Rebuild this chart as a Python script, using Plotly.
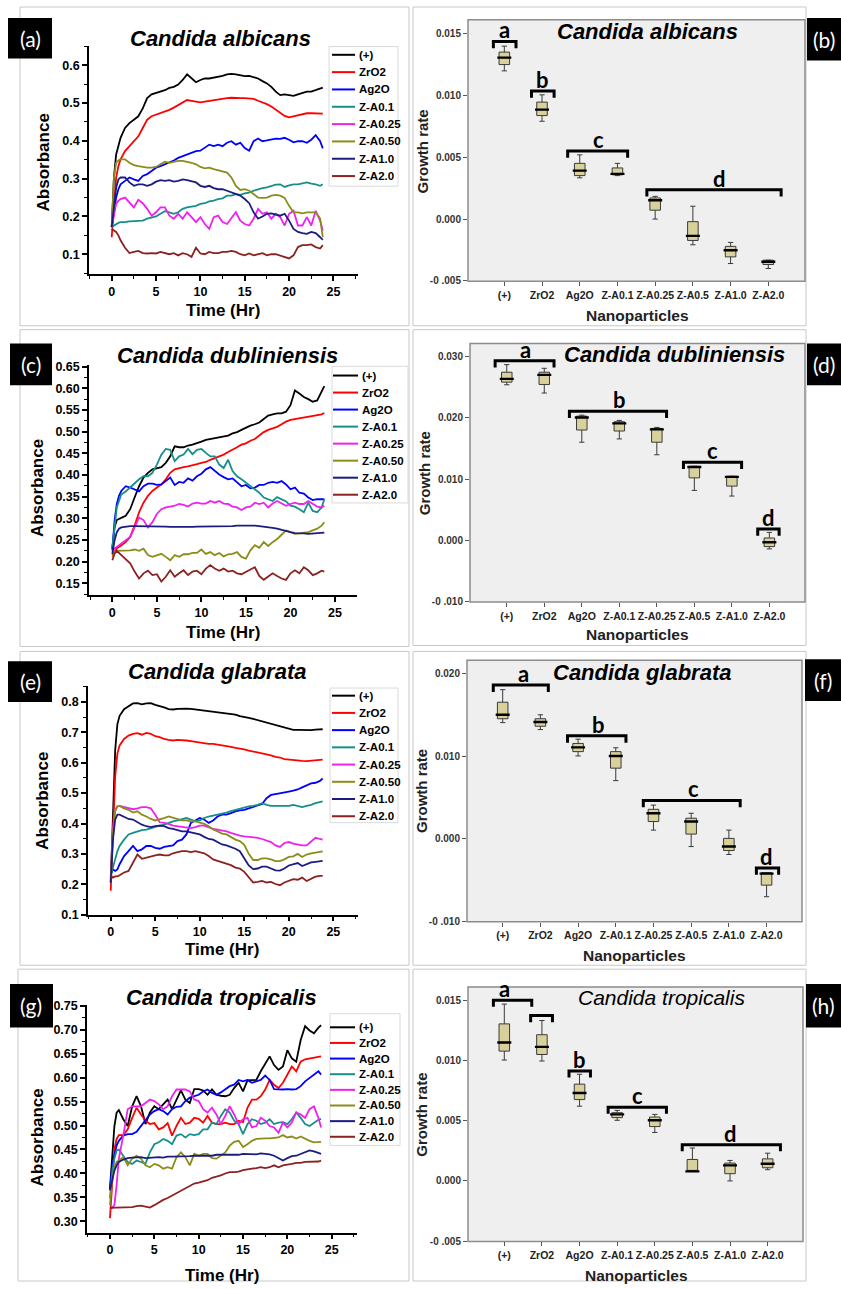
import plotly.graph_objects as go

W, H = 841, 1289
FONT = "Liberation Sans"
TAGFONT = "Lato"

# ---------------------------------------------------------------- time grid (h)
T = [0, 0.25, 0.5, 0.75,
     1.0, 1.5, 2.0, 2.5, 3.0, 3.5, 4.0, 4.5, 5.0, 5.5,
     6.0, 6.5, 7.0, 7.5, 8.0, 8.5, 9.0, 9.5, 10.0, 10.5,
     11.0, 11.5, 12.0, 12.5, 13.0, 13.5, 14.0, 14.5, 15.0, 15.5,
     16.0, 16.5, 17.0, 17.5, 18.0, 18.5, 19.0, 19.5, 20.0, 20.5,
     21.0, 21.5, 22.0, 22.5, 23.0, 23.5,
     23.8]

SERIES = ["(+)", "ZrO2", "Ag2O", "Z-A0.1", "Z-A0.25", "Z-A0.50", "Z-A1.0", "Z-A2.0"]
COLORS = ["#000000", "#ff0000", "#0000ff", "#168f8a", "#ee22ee", "#8c8c1a", "#1c1c80", "#8b2222"]

# ---------------------------------------------------------------- Candida albicans absorbance
A_POS = [0.172, 0.303, 0.364, 0.390,
         0.408, 0.434, 0.447, 0.456, 0.465, 0.486, 0.513, 0.523, 0.526, 0.530,
         0.534, 0.540, 0.543, 0.549, 0.561, 0.576, 0.565, 0.555, 0.561, 0.565,
         0.565, 0.567, 0.569, 0.572, 0.576, 0.577, 0.576, 0.574, 0.571, 0.572,
         0.569, 0.565, 0.558, 0.552, 0.543, 0.530, 0.521, 0.523, 0.521, 0.519,
         0.523, 0.526, 0.530, 0.530, 0.534, 0.539,
         0.541]
A_ZRO2 = [0.145, 0.240, 0.303, 0.333,
          0.351, 0.373, 0.386, 0.399, 0.412, 0.434, 0.456, 0.465, 0.469, 0.473,
          0.478, 0.482, 0.488, 0.495, 0.502, 0.508, 0.506, 0.504, 0.502, 0.504,
          0.506, 0.508, 0.510, 0.513, 0.513, 0.514, 0.513, 0.513, 0.513, 0.513,
          0.511, 0.506, 0.502, 0.497, 0.491, 0.482, 0.473, 0.466, 0.462, 0.465,
          0.467, 0.471, 0.473, 0.473, 0.473, 0.473,
          0.472]
A_AG2O = [0.172, 0.215, 0.250, 0.272,
          0.285, 0.294, 0.303, 0.298, 0.294, 0.307, 0.312, 0.320, 0.329, 0.333,
          0.338, 0.342, 0.348, 0.355, 0.360, 0.364, 0.368, 0.373, 0.374, 0.381,
          0.390, 0.386, 0.390, 0.386, 0.395, 0.399, 0.390, 0.395, 0.381, 0.374,
          0.399, 0.406, 0.399, 0.401, 0.403, 0.406, 0.405, 0.408, 0.403, 0.396,
          0.399, 0.399, 0.395, 0.403, 0.415, 0.399,
          0.380]
A_ZA01 = [0.172, 0.176, 0.180, 0.183,
          0.185, 0.185, 0.187, 0.187, 0.189, 0.189, 0.194, 0.196, 0.200, 0.207,
          0.214, 0.211, 0.207, 0.211, 0.220, 0.224, 0.226, 0.228, 0.233, 0.235,
          0.240, 0.242, 0.246, 0.248, 0.255, 0.255, 0.259, 0.257, 0.261, 0.263,
          0.268, 0.272, 0.275, 0.277, 0.281, 0.284, 0.285, 0.278, 0.282, 0.285,
          0.285, 0.287, 0.290, 0.287, 0.285, 0.281,
          0.285]
A_ZA025 = [0.172, 0.207, 0.233, 0.241,
           0.246, 0.250, 0.237, 0.224, 0.244, 0.235, 0.220, 0.202, 0.211, 0.224,
           0.224, 0.202, 0.194, 0.207, 0.194, 0.211, 0.198, 0.185, 0.198, 0.180,
           0.167, 0.198, 0.202, 0.185, 0.180, 0.194, 0.211, 0.189, 0.180, 0.176,
           0.194, 0.220, 0.207, 0.211, 0.194, 0.207, 0.198, 0.176, 0.207, 0.215,
           0.176, 0.176, 0.198, 0.176, 0.215, 0.189,
           0.163]
A_ZA050 = [0.172, 0.303, 0.342, 0.348,
           0.351, 0.351, 0.342, 0.336, 0.333, 0.331, 0.329, 0.329, 0.331, 0.338,
           0.345, 0.342, 0.345, 0.347, 0.347, 0.345, 0.342, 0.338, 0.331, 0.327,
           0.329, 0.325, 0.322, 0.320, 0.316, 0.303, 0.281, 0.270, 0.272, 0.268,
           0.259, 0.250, 0.249, 0.250, 0.255, 0.257, 0.255, 0.249, 0.228, 0.211,
           0.211, 0.208, 0.211, 0.211, 0.211, 0.194,
           0.145]
A_ZA10 = [0.172, 0.233, 0.276, 0.298,
          0.303, 0.303, 0.290, 0.281, 0.285, 0.285, 0.281, 0.285, 0.292, 0.296,
          0.294, 0.296, 0.292, 0.294, 0.298, 0.296, 0.292, 0.290, 0.281, 0.278,
          0.281, 0.275, 0.272, 0.272, 0.268, 0.263, 0.259, 0.255, 0.246, 0.235,
          0.211, 0.194, 0.200, 0.207, 0.208, 0.205, 0.202, 0.207, 0.189, 0.167,
          0.159, 0.156, 0.154, 0.159, 0.156, 0.145,
          0.138]
A_ZA20 = [0.167, 0.163, 0.159, 0.150,
          0.137, 0.117, 0.103, 0.106, 0.109, 0.103, 0.102, 0.103, 0.102, 0.106,
          0.102, 0.100, 0.103, 0.097, 0.103, 0.100, 0.093, 0.117, 0.102, 0.100,
          0.106, 0.103, 0.103, 0.106, 0.106, 0.109, 0.106, 0.100, 0.097, 0.102,
          0.097, 0.100, 0.103, 0.097, 0.100, 0.100, 0.097, 0.093, 0.089, 0.097,
          0.119, 0.124, 0.124, 0.126, 0.119, 0.115,
          0.124]

# ---------------------------------------------------------------- Candida dubliniensis absorbance
C_POS = [0.230, 0.279, 0.296, 0.298,
         0.301, 0.306, 0.321, 0.348, 0.374, 0.394, 0.405, 0.413, 0.415, 0.418,
         0.428, 0.443, 0.466, 0.464, 0.464, 0.468, 0.470, 0.473, 0.477, 0.481,
         0.483, 0.485, 0.486, 0.488, 0.491, 0.496, 0.499, 0.504, 0.509, 0.514,
         0.517, 0.521, 0.529, 0.537, 0.540, 0.542, 0.542, 0.546, 0.561, 0.595,
         0.588, 0.580, 0.575, 0.569, 0.572, 0.591,
         0.605]
C_ZRO2 = [0.215, 0.222, 0.230, 0.234,
          0.238, 0.245, 0.257, 0.283, 0.314, 0.336, 0.352, 0.363, 0.371, 0.378,
          0.390, 0.405, 0.413, 0.416, 0.418, 0.420, 0.422, 0.425, 0.428, 0.430,
          0.435, 0.439, 0.443, 0.447, 0.453, 0.458, 0.464, 0.470, 0.473, 0.479,
          0.483, 0.491, 0.499, 0.504, 0.508, 0.511, 0.517, 0.523, 0.527, 0.529,
          0.531, 0.533, 0.535, 0.537, 0.539, 0.540,
          0.543]
C_AG2O = [0.226, 0.295, 0.333, 0.352,
          0.363, 0.374, 0.371, 0.367, 0.362, 0.374, 0.380, 0.380, 0.377, 0.378,
          0.386, 0.394, 0.377, 0.384, 0.382, 0.392, 0.387, 0.397, 0.403, 0.413,
          0.418, 0.409, 0.401, 0.395, 0.390, 0.392, 0.382, 0.374, 0.377, 0.369,
          0.371, 0.377, 0.377, 0.382, 0.384, 0.382, 0.386, 0.378, 0.367, 0.371,
          0.359, 0.357, 0.348, 0.342, 0.344, 0.344,
          0.344]
C_ZA01 = [0.234, 0.287, 0.325, 0.340,
          0.355, 0.362, 0.371, 0.382, 0.390, 0.397, 0.397, 0.405, 0.424, 0.447,
          0.460, 0.458, 0.432, 0.443, 0.447, 0.460, 0.448, 0.458, 0.460, 0.451,
          0.443, 0.443, 0.424, 0.416, 0.435, 0.409, 0.397, 0.390, 0.382, 0.374,
          0.367, 0.359, 0.348, 0.344, 0.340, 0.349, 0.344, 0.339, 0.329, 0.327,
          0.321, 0.314, 0.336, 0.317, 0.314, 0.325,
          0.344]
C_ZA025 = [0.222, 0.230, 0.234, 0.238,
           0.241, 0.249, 0.257, 0.279, 0.302, 0.296, 0.279, 0.291, 0.310, 0.321,
           0.325, 0.327, 0.329, 0.333, 0.331, 0.327, 0.334, 0.336, 0.334, 0.334,
           0.340, 0.336, 0.340, 0.334, 0.333, 0.327, 0.325, 0.319, 0.325, 0.327,
           0.336, 0.333, 0.336, 0.325, 0.334, 0.340, 0.334, 0.329, 0.333, 0.336,
           0.333, 0.333, 0.340, 0.334, 0.327, 0.325,
           0.329]
C_ZA050 = [0.211, 0.222, 0.225, 0.225,
           0.225, 0.226, 0.226, 0.228, 0.225, 0.230, 0.215, 0.211, 0.215, 0.218,
           0.211, 0.203, 0.215, 0.211, 0.217, 0.217, 0.220, 0.220, 0.228, 0.218,
           0.222, 0.215, 0.220, 0.212, 0.217, 0.218, 0.222, 0.211, 0.207, 0.226,
           0.238, 0.232, 0.245, 0.236, 0.245, 0.252, 0.262, 0.272, 0.268, 0.264,
           0.265, 0.266, 0.268, 0.272, 0.276, 0.283,
           0.291]
C_ZA10 = [0.218, 0.249, 0.268, 0.276,
          0.279, 0.281, 0.282, 0.282, 0.282, 0.282, 0.282, 0.281, 0.281, 0.281,
          0.281, 0.280, 0.280, 0.279, 0.279, 0.280, 0.280, 0.281, 0.281, 0.281,
          0.282, 0.282, 0.281, 0.281, 0.282, 0.282, 0.283, 0.283, 0.283, 0.284,
          0.283, 0.282, 0.281, 0.280, 0.278, 0.276, 0.273, 0.270, 0.268, 0.266,
          0.266, 0.265, 0.264, 0.265, 0.266, 0.266,
          0.267]
C_ZA20 = [0.203, 0.218, 0.225, 0.220,
          0.215, 0.207, 0.196, 0.177, 0.161, 0.173, 0.179, 0.169, 0.171, 0.154,
          0.165, 0.180, 0.165, 0.173, 0.180, 0.169, 0.177, 0.179, 0.171, 0.184,
          0.192, 0.184, 0.179, 0.184, 0.177, 0.179, 0.173, 0.171, 0.177, 0.182,
          0.187, 0.167, 0.158, 0.165, 0.173, 0.167, 0.161, 0.158, 0.173, 0.180,
          0.173, 0.187, 0.180, 0.169, 0.173, 0.179,
          0.177]

# ---------------------------------------------------------------- Candida glabrata absorbance
E_POS = [0.206, 0.423, 0.640, 0.727,
         0.754, 0.776, 0.787, 0.795, 0.796, 0.792, 0.795, 0.796, 0.790, 0.787,
         0.782, 0.776, 0.775, 0.777, 0.778, 0.778, 0.777, 0.775, 0.773, 0.771,
         0.769, 0.768, 0.766, 0.765, 0.762, 0.760, 0.758, 0.753, 0.749, 0.747,
         0.744, 0.740, 0.736, 0.732, 0.727, 0.723, 0.719, 0.714, 0.710, 0.708,
         0.708, 0.708, 0.706, 0.707, 0.709, 0.710,
         0.710]
E_ZRO2 = [0.179, 0.402, 0.554, 0.630,
          0.657, 0.678, 0.689, 0.695, 0.697, 0.692, 0.698, 0.695, 0.687, 0.684,
          0.678, 0.675, 0.673, 0.675, 0.675, 0.673, 0.671, 0.669, 0.665, 0.664,
          0.662, 0.662, 0.660, 0.658, 0.656, 0.652, 0.649, 0.647, 0.644, 0.640,
          0.637, 0.634, 0.630, 0.627, 0.624, 0.619, 0.617, 0.612, 0.610, 0.608,
          0.606, 0.606, 0.605, 0.607, 0.608, 0.610,
          0.610]
E_AG2O = [0.233, 0.249, 0.244, 0.249,
          0.266, 0.293, 0.309, 0.326, 0.309, 0.315, 0.326, 0.326, 0.320, 0.317,
          0.323, 0.326, 0.328, 0.342, 0.347, 0.364, 0.402, 0.410, 0.418, 0.413,
          0.402, 0.410, 0.423, 0.429, 0.429, 0.434, 0.440, 0.443, 0.445, 0.450,
          0.454, 0.458, 0.464, 0.483, 0.494, 0.497, 0.499, 0.501, 0.505, 0.508,
          0.512, 0.519, 0.526, 0.532, 0.534, 0.540,
          0.548]
E_ZA01 = [0.228, 0.260, 0.282, 0.309,
          0.326, 0.347, 0.364, 0.369, 0.374, 0.378, 0.380, 0.385, 0.388, 0.393,
          0.396, 0.402, 0.407, 0.410, 0.415, 0.418, 0.413, 0.407, 0.410, 0.418,
          0.423, 0.426, 0.429, 0.434, 0.436, 0.441, 0.445, 0.447, 0.451, 0.456,
          0.458, 0.461, 0.467, 0.461, 0.458, 0.458, 0.460, 0.458, 0.458, 0.461,
          0.458, 0.454, 0.458, 0.461, 0.467, 0.471,
          0.473]
E_ZA025 = [0.222, 0.380, 0.445, 0.456,
           0.458, 0.454, 0.450, 0.447, 0.450, 0.454, 0.454, 0.450, 0.429, 0.404,
           0.402, 0.399, 0.393, 0.391, 0.391, 0.388, 0.385, 0.388, 0.393, 0.393,
           0.388, 0.382, 0.380, 0.378, 0.374, 0.369, 0.364, 0.360, 0.358, 0.356,
           0.356, 0.353, 0.349, 0.345, 0.339, 0.328, 0.323, 0.336, 0.339, 0.334,
           0.331, 0.328, 0.328, 0.339, 0.353, 0.349,
           0.347]
E_ZA050 = [0.217, 0.369, 0.440, 0.456,
           0.458, 0.450, 0.445, 0.436, 0.440, 0.429, 0.423, 0.415, 0.410, 0.413,
           0.418, 0.423, 0.418, 0.413, 0.410, 0.410, 0.407, 0.407, 0.404, 0.399,
           0.391, 0.380, 0.374, 0.367, 0.364, 0.356, 0.347, 0.342, 0.330, 0.300,
           0.280, 0.280, 0.285, 0.285, 0.282, 0.276, 0.276, 0.282, 0.290, 0.292,
           0.300, 0.290, 0.298, 0.302, 0.305, 0.307,
           0.308]
E_ZA10 = [0.206, 0.347, 0.413, 0.429,
          0.429, 0.423, 0.415, 0.413, 0.404, 0.396, 0.391, 0.388, 0.391, 0.393,
          0.391, 0.385, 0.382, 0.378, 0.374, 0.374, 0.371, 0.369, 0.364, 0.356,
          0.349, 0.347, 0.339, 0.331, 0.328, 0.323, 0.317, 0.309, 0.285, 0.262,
          0.250, 0.252, 0.258, 0.258, 0.252, 0.246, 0.245, 0.252, 0.262, 0.265,
          0.270, 0.260, 0.266, 0.272, 0.274, 0.276,
          0.277]
E_ZA20 = [0.228, 0.222, 0.226, 0.226,
          0.230, 0.239, 0.244, 0.271, 0.298, 0.284, 0.288, 0.293, 0.295, 0.298,
          0.295, 0.295, 0.302, 0.306, 0.309, 0.309, 0.306, 0.309, 0.306, 0.302,
          0.293, 0.282, 0.277, 0.273, 0.269, 0.263, 0.255, 0.252, 0.241, 0.222,
          0.206, 0.208, 0.211, 0.206, 0.208, 0.201, 0.197, 0.206, 0.211, 0.217,
          0.215, 0.222, 0.211, 0.219, 0.225, 0.228,
          0.228]

# ---------------------------------------------------------------- Candida tropicalis absorbance
G_POS = [0.369, 0.444, 0.499, 0.527,
         0.532, 0.513, 0.499, 0.540, 0.561, 0.540, 0.503, 0.527, 0.540, 0.534,
         0.544, 0.554, 0.534, 0.554, 0.573, 0.554, 0.547, 0.576, 0.576, 0.573,
         0.564, 0.575, 0.564, 0.562, 0.561, 0.564, 0.578, 0.589, 0.571, 0.594,
         0.595, 0.595, 0.613, 0.630, 0.644, 0.626, 0.616, 0.623, 0.657, 0.640,
         0.633, 0.678, 0.707, 0.698, 0.692, 0.704,
         0.709]
G_ZRO2 = [0.307, 0.389, 0.451, 0.472,
          0.480, 0.480, 0.492, 0.516, 0.537, 0.523, 0.510, 0.503, 0.505, 0.492,
          0.496, 0.505, 0.479, 0.499, 0.516, 0.503, 0.506, 0.516, 0.514, 0.506,
          0.520, 0.506, 0.503, 0.503, 0.506, 0.503, 0.503, 0.510, 0.507, 0.537,
          0.554, 0.554, 0.561, 0.575, 0.595, 0.585, 0.578, 0.589, 0.606, 0.623,
          0.613, 0.633, 0.638, 0.640, 0.642, 0.644,
          0.644]
G_AG2O = [0.365, 0.417, 0.437, 0.458,
          0.468, 0.479, 0.482, 0.482, 0.487, 0.499, 0.513, 0.523, 0.530, 0.534,
          0.530, 0.523, 0.534, 0.539, 0.540, 0.551, 0.558, 0.561, 0.564, 0.571,
          0.575, 0.568, 0.564, 0.569, 0.576, 0.582, 0.585, 0.595, 0.592, 0.595,
          0.589, 0.592, 0.595, 0.604, 0.595, 0.576, 0.575, 0.575, 0.576, 0.575,
          0.576, 0.582, 0.592, 0.599, 0.606, 0.613,
          0.606]
G_ZA01 = [0.348, 0.403, 0.431, 0.448,
          0.450, 0.437, 0.424, 0.420, 0.427, 0.424, 0.420, 0.444, 0.461, 0.465,
          0.472, 0.468, 0.461, 0.479, 0.482, 0.475, 0.482, 0.480, 0.482, 0.492,
          0.492, 0.506, 0.503, 0.520, 0.534, 0.527, 0.510, 0.503, 0.482, 0.503,
          0.513, 0.510, 0.503, 0.506, 0.513, 0.503, 0.506, 0.507, 0.503, 0.513,
          0.527, 0.516, 0.503, 0.499, 0.506, 0.512,
          0.514]
G_ZA025 = [0.324, 0.328, 0.334, 0.376,
           0.431, 0.479, 0.534, 0.540, 0.540, 0.540, 0.547, 0.554, 0.551, 0.544,
           0.534, 0.540, 0.561, 0.575, 0.575, 0.575, 0.571, 0.554, 0.551, 0.534,
           0.527, 0.537, 0.523, 0.503, 0.520, 0.540, 0.523, 0.503, 0.513, 0.516,
           0.496, 0.499, 0.516, 0.510, 0.499, 0.496, 0.485, 0.506, 0.496, 0.506,
           0.527, 0.523, 0.516, 0.534, 0.540, 0.516,
           0.496]
G_ZA050 = [0.334, 0.389, 0.413, 0.424,
           0.427, 0.434, 0.417, 0.431, 0.437, 0.431, 0.417, 0.413, 0.420, 0.417,
           0.410, 0.413, 0.410, 0.434, 0.444, 0.434, 0.417, 0.441, 0.437, 0.441,
           0.441, 0.432, 0.431, 0.437, 0.444, 0.458, 0.466, 0.468, 0.455, 0.461,
           0.468, 0.472, 0.473, 0.473, 0.473, 0.474, 0.475, 0.480, 0.475, 0.477,
           0.473, 0.477, 0.472, 0.468, 0.465, 0.465,
           0.466]
G_ZA10 = [0.365, 0.389, 0.406, 0.417,
          0.424, 0.429, 0.432, 0.433, 0.434, 0.434, 0.432, 0.433, 0.434, 0.434,
          0.433, 0.435, 0.435, 0.435, 0.436, 0.436, 0.436, 0.437, 0.437, 0.437,
          0.437, 0.437, 0.439, 0.439, 0.439, 0.439, 0.440, 0.439, 0.441, 0.441,
          0.440, 0.440, 0.442, 0.441, 0.440, 0.437, 0.432, 0.427, 0.432, 0.436,
          0.437, 0.441, 0.444, 0.448, 0.446, 0.443,
          0.441]
G_ZA20 = [0.328, 0.329, 0.329, 0.329,
          0.329, 0.329, 0.329, 0.330, 0.332, 0.333, 0.331, 0.329, 0.334, 0.340,
          0.345, 0.349, 0.354, 0.358, 0.363, 0.369, 0.374, 0.379, 0.381, 0.384,
          0.386, 0.391, 0.393, 0.396, 0.400, 0.403, 0.403, 0.404, 0.407, 0.409,
          0.410, 0.411, 0.413, 0.411, 0.413, 0.417, 0.413, 0.417, 0.418, 0.420,
          0.422, 0.422, 0.424, 0.424, 0.424, 0.425,
          0.427]

# ---------------------------------------------------------------- growth-rate box statistics
NP = ["(+)", "ZrO2", "Ag2O", "Z-A0.1", "Z-A0.25", "Z-A0.5", "Z-A1.0", "Z-A2.0"]

B_LO = [0.01201, 0.00793, 0.00335, 0.00353, 0.00001, -0.00207, -0.00359, -0.00399]
B_Q1 = [0.01252, 0.00839, 0.00353, 0.00359, 0.00073, -0.00172, -0.00305, -0.00367]
B_MED = [0.01308, 0.00887, 0.00393, 0.00367, 0.00153, -0.00135, -0.00252, -0.00345]
B_Q3 = [0.01353, 0.00948, 0.00452, 0.00415, 0.00172, -0.00020, -0.00220, -0.00332]
B_HI = [0.01401, 0.01007, 0.00521, 0.00452, 0.00185, 0.00105, -0.00188, -0.00332]

D_LO = [0.02542, 0.02407, 0.01604, 0.01658, 0.01399, 0.00817, 0.00725, -0.00138]
D_Q1 = [0.02585, 0.02547, 0.01803, 0.01787, 0.01604, 0.01022, 0.00887, -0.00100]
D_MED = [0.02639, 0.02703, 0.02008, 0.01911, 0.01814, 0.01199, 0.01038, -0.00030]
D_Q3 = [0.02747, 0.02747, 0.02030, 0.01938, 0.01830, 0.01210, 0.01048, 0.00040]
D_HI = [0.02871, 0.02811, 0.02046, 0.01960, 0.01846, 0.01210, 0.01048, 0.00132]

F_LO = [0.01406, 0.01322, 0.01003, 0.00704, 0.00105, -0.00094, -0.00190, -0.00701]
F_Q1 = [0.01453, 0.01362, 0.01055, 0.00855, 0.00209, 0.00057, -0.00142, -0.00561]
F_MED = [0.01501, 0.01414, 0.01106, 0.01003, 0.00309, 0.00209, -0.00094, -0.00421]
F_Q3 = [0.01653, 0.01453, 0.01154, 0.01055, 0.00357, 0.00249, 0.00005, -0.00409]
F_HI = [0.01805, 0.01501, 0.01206, 0.01102, 0.00408, 0.00309, 0.00105, -0.00409]

H_LO = [0.01003, 0.00995, 0.00620, 0.00503, 0.00402, 0.00079, 0.00000, 0.00093]
H_Q1 = [0.01077, 0.01049, 0.00675, 0.00525, 0.00451, 0.00079, 0.00060, 0.00109]
H_MED = [0.01148, 0.01112, 0.00730, 0.00552, 0.00503, 0.00079, 0.00129, 0.00142]
H_Q3 = [0.01303, 0.01213, 0.00803, 0.00566, 0.00530, 0.00178, 0.00148, 0.00183]
H_HI = [0.01467, 0.01331, 0.00885, 0.00585, 0.00552, 0.00273, 0.00170, 0.00230]

# significance groups: (start, end, level, letter, letter position)
B_GROUPS = [(-0.29, 0.31, 0.01439, "a", 0.0), (0.72, 1.32, 0.01039, "b", 1.02),
            (1.68, 3.27, 0.00553, "c", 2.51), (3.78, 7.34, 0.00239, "d", 5.70)]
D_GROUPS = [(-0.31, 1.26, 0.02935, "a", 0.49), (1.67, 4.26, 0.02110, "b", 3.0),
            (4.71, 6.26, 0.01275, "c", 5.49), (6.69, 7.26, 0.00186, "d", 6.99)]
F_GROUPS = [(-0.25, 1.21, 0.01860, "a", 0.55), (1.72, 3.27, 0.01246, "b", 2.54),
            (3.73, 6.30, 0.00464, "c", 5.06), (6.73, 7.32, -0.00354, "d", 7.01)]
H_GROUPS = [(-0.29, 0.73, 0.01500, "a", 0.0), (0.70, 1.28, 0.01372, "", 1.0),
            (1.72, 2.29, 0.00913, "b", 2.01), (2.76, 4.31, 0.00612, "c", 3.54),
            (4.73, 7.34, 0.00301, "d", 6.01)]


def fx(p):
    return p / W


def fy(p):
    return 1 - p / H


def axn(n, a):
    return a if n == 1 else f"{a}{n}"


fig = go.Figure()
shapes = []
annotations = []
axes = {}


def text(x, y, s, size, weight="bold", style="normal", color="black", family=FONT,
         angle=0, xanchor="center", yanchor="middle"):
    annotations.append(dict(xref="paper", yref="paper", x=fx(x), y=fy(y), text=s,
                            showarrow=False, xanchor=xanchor, yanchor=yanchor,
                            textangle=angle,
                            font=dict(family=family, size=size, color=color,
                                      weight=weight, style=style)))


def rect(x0, x1, y0, y1, fill=None, line="#c8c8c8", lw=1, layer="below"):
    shapes.append(dict(type="rect", xref="paper", yref="paper",
                       x0=fx(x0), x1=fx(x1), y0=fy(y1), y1=fy(y0),
                       fillcolor=fill if fill else "rgba(0,0,0,0)",
                       line=dict(color=line, width=lw), layer=layer))


# cell frames
for c in [(20, 409, 1, 323), (413, 806, 1, 323), (20, 409, 327, 647), (413, 806, 327, 646),
          (20, 409, 652, 969), (413, 806, 652, 969), (18, 409, 973, 1288), (413, 806, 973, 1288)]:
    rect(*c, line="#c8c8c8", lw=1)

# ---------------------------------------------------------------- absorbance panels
LINE_PANELS = [
    dict(n=1, data=[A_POS, A_ZRO2, A_AG2O, A_ZA01, A_ZA025, A_ZA050, A_ZA10, A_ZA20],
         box=(89, 358, 40, 271), xr=(-2.56, 27.77), yr=(0.047, 0.652), dt=0.1, fmt=".1f",
         title="Candida albicans", tpos=(220, 33), ylab=(43, 158), xlab=(223, 308),
         leg=(332, 355, 49.3, 17.5), legbox=(329, 398, 41, 182)),
    dict(n=3, data=[C_POS, C_ZRO2, C_AG2O, C_ZA01, C_ZA025, C_ZA050, C_ZA10, C_ZA20],
         box=(89, 357, 363, 595), xr=(-2.62, 27.47), yr=(0.123, 0.653), dt=0.05, fmt=".2f",
         title="Candida dubliniensis", tpos=(227, 353), ylab=(37, 487), xlab=(223, 633),
         leg=(333, 358, 373.3, 17.2), legbox=(332, 408, 364, 502)),
    dict(n=5, data=[E_POS, E_ZRO2, E_AG2O, E_ZA01, E_ZA025, E_ZA050, E_ZA10, E_ZA20],
         box=(88, 358, 687, 918), xr=(-2.55, 27.77), yr=(0.0999, 0.852), dt=0.1, fmt=".1f",
         title="Candida glabrata", tpos=(217, 672), ylab=(43, 803), xlab=(222, 953),
         leg=(332, 355, 696.7, 17.4), legbox=(330, 398, 689, 825)),
    dict(n=7, data=[G_POS, G_ZRO2, G_AG2O, G_ZA01, G_ZA025, G_ZA050, G_ZA10, G_ZA20],
         box=(87, 357, 1009, 1239), xr=(-2.59, 27.85), yr=(0.277, 0.7515), dt=0.05, fmt=".2f",
         title="Candida tropicalis", tpos=(222, 1002), ylab=(37, 1143), xlab=(222, 1282),
         leg=(330, 355, 1031.7, 15.8), legbox=(330, 400, 1018, 1151)),
]

for p in LINE_PANELS:
    n = p["n"]
    xa, ya = axn(n, "x"), axn(n, "y")
    for name, col, vals in zip(SERIES, COLORS, p["data"]):
        fig.add_trace(go.Scatter(x=T, y=vals, mode="lines", name=name,
                                 line=dict(color=col, width=1.8),
                                 showlegend=False, xaxis=xa, yaxis=ya))
    x0, x1, y0, y1 = p["box"]
    tickfont = dict(family=FONT, size=12.5, color="black", weight="bold")
    axes["xaxis" + ("" if n == 1 else str(n))] = dict(
        domain=[fx(x0), fx(x1)], range=list(p["xr"]), anchor=ya,
        showline=True, linecolor="black", linewidth=1.5, showgrid=False, zeroline=False,
        ticks="outside", ticklen=5, tickwidth=1.5, tickcolor="black", tick0=0, dtick=5,
        minor=dict(ticks="outside", ticklen=3, tickwidth=1.2, tickcolor="black",
                   tick0=0, dtick=2.5, showgrid=False),
        tickfont=tickfont)
    axes["yaxis" + ("" if n == 1 else str(n))] = dict(
        domain=[fy(y1), fy(y0)], range=list(p["yr"]), anchor=xa,
        showline=True, linecolor="black", linewidth=1.5, showgrid=False, zeroline=False,
        ticks="outside", ticklen=5, tickwidth=1.5, tickcolor="black", tick0=0, dtick=p["dt"],
        tickformat=p["fmt"],
        minor=dict(ticks="outside", ticklen=3, tickwidth=1.2, tickcolor="black",
                   tick0=0, dtick=p["dt"] / 2, showgrid=False),
        tickfont=tickfont)
    text(*p["tpos"], p["title"], 22, weight="bold", style="italic")
    text(*p["ylab"], "Absorbance", 17, angle=-90)
    text(*p["xlab"], "Time (Hr)", 17)
    # key
    lx0, lx1, ly, step = p["leg"]
    bx0, bx1, by0, by1 = p["legbox"]
    rect(bx0, bx1, by0, by1, line="#dadada", lw=1)
    for i, (name, col) in enumerate(zip(SERIES, COLORS)):
        yy = ly + i * step
        shapes.append(dict(type="line", xref="paper", yref="paper",
                           x0=fx(lx0), x1=fx(lx1), y0=fy(yy), y1=fy(yy),
                           line=dict(color=col, width=2)))
        text(lx1 + 2, yy, name, 11.5, xanchor="left")

# ---------------------------------------------------------------- growth-rate panels
BOX_PANELS = [
    dict(n=2, stats=(B_LO, B_Q1, B_MED, B_Q3, B_HI), groups=B_GROUPS,
         box=(468, 805, 14, 278), xr=(-0.963, 7.973), yr=(-0.00502, 0.01614),
         tv=[-0.005, 0.0, 0.005, 0.010, 0.015],
         tt=["-0 .005", "0.000", "0.005", "0.010", "0.015"],
         title="Candida albicans", tpos=(647, 26), tw="bold",
         ylab=(423, 147), xlab=(637, 313)),
    dict(n=4, stats=(D_LO, D_Q1, D_MED, D_Q3, D_HI), groups=D_GROUPS,
         box=(470, 805, 341, 602), xr=(-0.98, 7.95), yr=(-0.01004, 0.03215),
         tv=[-0.010, 0.0, 0.010, 0.020, 0.030],
         tt=["-0 .010", "0.000", "0.010", "0.020", "0.030"],
         title="Candida dubliniensis", tpos=(674, 352), tw="bold",
         ylab=(424, 472), xlab=(637, 635)),
    dict(n=6, stats=(F_LO, F_Q1, F_MED, F_Q3, F_HI), groups=F_GROUPS,
         box=(467, 802, 661, 925), xr=(-0.947, 7.94), yr=(-0.01003, 0.0216),
         tv=[-0.010, 0.0, 0.010, 0.020],
         tt=["-0 .010", "0.000", "0.010", "0.020"],
         title="Candida glabrata", tpos=(642, 673), tw="bold",
         ylab=(421, 793), xlab=(634, 959)),
    dict(n=8, stats=(H_LO, H_Q1, H_MED, H_Q3, H_HI), groups=H_GROUPS,
         box=(468, 803, 991, 1248), xr=(-0.965, 7.94), yr=(-0.00502, 0.01609),
         tv=[-0.005, 0.0, 0.005, 0.010, 0.015],
         tt=["-0 .005", "0.000", "0.005", "0.010", "0.015"],
         title="Candida tropicalis", tpos=(661, 1002), tw="normal",
         ylab=(422, 1120), xlab=(636, 1282)),
]

IDX = list(range(len(NP)))
for p in BOX_PANELS:
    n = p["n"]
    xa, ya = axn(n, "x"), axn(n, "y")
    lo, q1, med, q3, hi = p["stats"]
    fig.add_trace(go.Box(x=IDX, lowerfence=lo, q1=q1, median=med, q3=q3, upperfence=hi,
                         fillcolor="#d9d19c", line=dict(color="#3a3a3a", width=1),
                         width=0.28, whiskerwidth=0.5, boxpoints=False,
                         showlegend=False, xaxis=xa, yaxis=ya, hoverinfo="skip"))
    fig.add_trace(go.Scatter(x=IDX, y=med, mode="markers", showlegend=False,
                             marker=dict(symbol="line-ew", size=10,
                                         line=dict(width=2.4, color="black")),
                             xaxis=xa, yaxis=ya, hoverinfo="skip"))
    span = p["yr"][1] - p["yr"][0]
    drop = 0.026 * span
    bx, by = [], []
    for (g0, g1, gy, letter, lx) in p["groups"]:
        bx += [g0, g0, g1, g1, None]
        by += [gy - drop, gy, gy, gy - drop, None]
        if letter:
            annotations.append(dict(xref=xa, yref=ya, x=lx, y=gy, text=letter,
                                    showarrow=False, xanchor="center", yanchor="bottom",
                                    yshift=-4,
                                    font=dict(family=TAGFONT, size=22, color="black",
                                              weight="bold")))
    fig.add_trace(go.Scatter(x=bx, y=by, mode="lines", showlegend=False,
                             line=dict(color="black", width=3),
                             xaxis=xa, yaxis=ya, hoverinfo="skip"))
    x0, x1, y0, y1 = p["box"]
    shapes.append(dict(type="rect", xref=f"{xa} domain", yref=f"{ya} domain",
                       x0=0, x1=1, y0=0, y1=1, fillcolor="#efefef",
                       line=dict(color="#8c8c8c", width=1.5), layer="below"))
    axes["xaxis" + str(n)] = dict(
        domain=[fx(x0), fx(x1)], range=list(p["xr"]), anchor=ya,
        showline=False, showgrid=False, zeroline=False,
        tickmode="array", tickvals=IDX, ticktext=NP,
        ticks="outside", ticklen=4, tickwidth=1, tickcolor="#555",
        tickfont=dict(family=FONT, size=10.5, color="#222", weight="bold"))
    axes["yaxis" + str(n)] = dict(
        domain=[fy(y1), fy(y0)], range=list(p["yr"]), anchor=xa,
        showline=False, showgrid=False, zeroline=False,
        tickmode="array", tickvals=p["tv"], ticktext=p["tt"],
        ticks="outside", ticklen=4, tickwidth=1, tickcolor="#555",
        tickfont=dict(family=FONT, size=10, color="#333", weight="bold"))
    text(*p["tpos"], p["title"], 22 if p["tw"] == "bold" else 21,
         weight=p["tw"], style="italic")
    text(*p["ylab"], "Growth rate", 15, angle=-90, color="#222")
    text(*p["xlab"], "Nanoparticles", 15.5, color="#222")

# ---------------------------------------------------------------- panel tags
TAGS = [("(a)", (8, 52, 12, 53)), ("(b)", (807, 841, 12, 55)),
        ("(c)", (10, 52, 341, 383)), ("(d)", (807, 841, 341, 383)),
        ("(e)", (8, 52, 662, 703)), ("(f)", (805, 841, 660, 702)),
        ("(g)", (10, 53, 988, 1032)), ("(h)", (806, 841, 988, 1032))]
for label, (x0, x1, y0, y1) in TAGS:
    rect(x0, x1, y0, y1, fill="black", line="black", lw=0, layer="above")
    text((x0 + x1) / 2, (y0 + y1) / 2, label, 21, weight="normal", color="white",
         family=TAGFONT)

fig.update_layout(width=W, height=H, margin=dict(l=0, r=0, t=0, b=0),
                  paper_bgcolor="white", plot_bgcolor="white", showlegend=False,
                  shapes=shapes, annotations=annotations, **axes)

fig.write_html("out.html")
